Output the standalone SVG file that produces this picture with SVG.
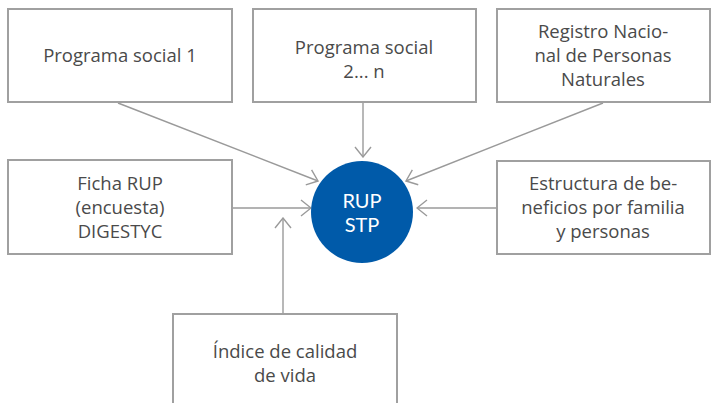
<svg xmlns="http://www.w3.org/2000/svg" width="711" height="403" viewBox="0 0 711 403">
<defs>
<marker id="arr" viewBox="0 0 12 18" markerWidth="12" markerHeight="18" refX="11" refY="9" orient="auto" markerUnits="userSpaceOnUse">
<path d="M1,1 L11,9 L1,17" fill="none" stroke="#9a9a9a" stroke-width="1.4"/>
</marker>
<style>
.box{fill:#fff;stroke:#a0a0a0;stroke-width:2}
.t{font-family:"Open Sans","Noto Sans",sans-serif;font-size:18.5px;fill:#4a4a4a;text-anchor:middle}
.c{font-family:Lato,"Open Sans",sans-serif;font-size:20px;fill:#fff;text-anchor:middle}
.ln{stroke:#9a9a9a;stroke-width:1.4;fill:none;marker-end:url(#arr)}
</style>
</defs>
<rect width="711" height="403" fill="#fff"/>
<g id="connectors">
<line class="ln" x1="118" y1="103" x2="318" y2="181"/>
<line class="ln" x1="363" y1="103" x2="363" y2="157"/>
<line class="ln" x1="603" y1="103" x2="406" y2="181"/>
<line class="ln" x1="233" y1="208" x2="311" y2="208"/>
<line class="ln" x1="496" y1="208" x2="417" y2="208"/>
<line class="ln" x1="283" y1="313" x2="283" y2="218"/>
</g>
<g id="n1"><rect class="box" x="8" y="9" width="224" height="93"/><text class="t" x="120" y="62">Programa social 1</text></g>
<g id="n2"><rect class="box" x="253" y="9" width="223" height="93"/><text class="t" y="54"><tspan x="364">Programa social</tspan><tspan x="364" dy="24">2... n</tspan></text></g>
<g id="n3"><rect class="box" x="497" y="9" width="213" height="93"/><text class="t" y="38"><tspan x="603">Registro Nacio-</tspan><tspan x="603" dy="24">nal de Personas</tspan><tspan x="603" dy="24">Naturales</tspan></text></g>
<g id="n4"><rect class="box" x="8" y="160" width="224" height="94"/><text class="t" y="190"><tspan x="120">Ficha RUP</tspan><tspan x="120" dy="24">(encuesta)</tspan><tspan x="120" dy="24">DIGESTYC</tspan></text></g>
<g id="n5"><rect class="box" x="497" y="161" width="213" height="93"/><text class="t" y="190"><tspan x="603">Estructura de be-</tspan><tspan x="603" dy="24">neficios por familia</tspan><tspan x="603" dy="24">y personas</tspan></text></g>
<g id="n6"><rect class="box" x="173" y="314" width="224" height="100"/><text class="t" y="358"><tspan x="285">Índice de calidad</tspan><tspan x="285" dy="24">de vida</tspan></text></g>
<g id="center"><circle cx="362" cy="212" r="51" fill="#005aa9"/><text class="c" y="208"><tspan x="362">RUP</tspan><tspan x="362" dy="24">STP</tspan></text></g>
</svg>
